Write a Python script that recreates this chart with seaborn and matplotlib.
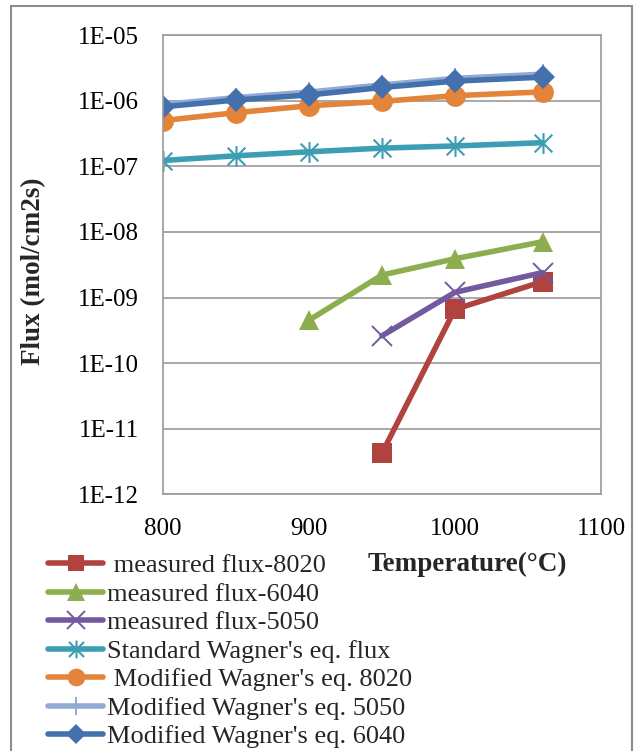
import numpy as np
import pandas as pd
import matplotlib
matplotlib.use('Agg')
import matplotlib.pyplot as plt
import seaborn as sns
from matplotlib.path import Path
from matplotlib.patches import Rectangle
from matplotlib.ticker import FixedLocator, FuncFormatter, NullLocator

# data
temp_all = [800, 850, 900, 950, 1000, 1060]
temp_6040 = [900, 950, 1000, 1060]
temp_meas = [950, 1000, 1060]

meas_8020 = [4.2e-12, 6.6e-10, 1.75e-9]
meas_6040 = [4.5e-10, 2.2e-9, 3.9e-9, 7.1e-9]
meas_5050 = [2.6e-10, 1.2e-9, 2.4e-9]
std_wagner = [1.23e-7, 1.45e-7, 1.67e-7, 1.9e-7, 2.05e-7, 2.3e-7]
mod_8020 = [5.0e-7, 6.6e-7, 8.4e-7, 9.8e-7, 1.2e-6, 1.37e-6]
mod_5050 = [8.8e-7, 1.12e-6, 1.36e-6, 1.75e-6, 2.2e-6, 2.55e-6]
mod_6040 = [8.1e-7, 1.03e-6, 1.23e-6, 1.6e-6, 2.0e-6, 2.3e-6]

# excel style star: x plus a vertical bar
star = Path([(0, -1), (0, 1), (-0.85, -0.85), (0.85, 0.85), (-0.85, 0.85), (0.85, -0.85)],
            [Path.MOVETO, Path.LINETO, Path.MOVETO, Path.LINETO, Path.MOVETO, Path.LINETO])

series = [
    (' measured flux-8020', temp_meas, meas_8020, '#B0423F', 's', 14, 0),
    ('measured flux-6040', temp_6040, meas_6040, '#8DAE4E', '^', 15, 0),
    ('measured flux-5050', temp_meas, meas_5050, '#7359A0', 'x', 15, 1.4),
    ("Standard Wagner's eq. flux", temp_all, std_wagner, '#3D9DB3', star, 15, 1.5),
    (" Modified Wagner's eq. 8020", temp_all, mod_8020, '#E3843A', 'o', 15, 0),
    ("Modified Wagner's eq. 5050", temp_all, mod_5050, '#91AAD4', '|', 15, 1.4),
    ("Modified Wagner's eq. 6040", temp_all, mod_6040, '#4470AE', 'D', 12, 0),
]

sns.set_style('white')
plt.rcParams['font.family'] = ['Liberation Serif', 'DejaVu Serif']

fig = plt.figure(figsize=(6.36, 7.51), dpi=100)
fig.add_artist(Rectangle((11 / 636, -0.01), (632 - 11) / 636, 1 - 6 / 751 + 0.01,
                         transform=fig.transFigure, fill=False,
                         edgecolor='#8C8C8C', linewidth=1.5))
ax = fig.add_axes([0.256, 0.342, 0.689, 0.611])

for label, xs, ys, col, mk, ms, mew in series:
    df = pd.DataFrame({'T': xs, 'flux': ys})
    sns.lineplot(data=df, x='T', y='flux', ax=ax, color=col, linewidth=4,
                 marker=mk, markersize=ms, markeredgewidth=mew,
                 markeredgecolor=col, label=label)

ax.set_yscale('log')
ax.set_ylim(1e-12, 1e-5)
ax.set_xlim(800, 1100)
ax.xaxis.set_major_locator(FixedLocator([800, 900, 1000, 1100]))
ax.yaxis.set_major_locator(FixedLocator([10.0 ** e for e in range(-12, -4)]))
ax.yaxis.set_minor_locator(NullLocator())
ax.yaxis.set_major_formatter(FuncFormatter(lambda v, p: '1E-%02d' % round(-np.log10(v))))
ax.grid(axis='y', color='#9A9A9A', linewidth=1.2)
ax.grid(axis='x', visible=False)
for s in ax.spines.values():
    s.set_color('#9A9A9A')
    s.set_linewidth(1.2)
ax.tick_params(axis='both', direction='out', length=6, width=1.2, color='#9A9A9A',
               labelsize=18, labelcolor='black')
ax.tick_params(axis='x', pad=11)
ax.tick_params(axis='y', pad=11)

ax.set_xlabel('Temperature(°C)', fontsize=19.5, fontweight='bold')
ax.xaxis.set_label_coords(0.694, -0.125)
ax.set_ylabel('Flux (mol/cm2s)', fontsize=19.5, fontweight='bold')
ax.yaxis.set_label_coords(-0.267, 0.486)

handles, labels = ax.get_legend_handles_labels()
ax.get_legend().remove()
fig.legend(handles, labels, loc='upper left', bbox_to_anchor=(48 / 636, 1 - 554 / 751),
           frameon=False, fontsize=19, handlelength=2.1, handletextpad=0.15,
           labelspacing=0.19, borderpad=0, borderaxespad=0, markerscale=0.85)

fig.savefig('out.png', dpi=100)
